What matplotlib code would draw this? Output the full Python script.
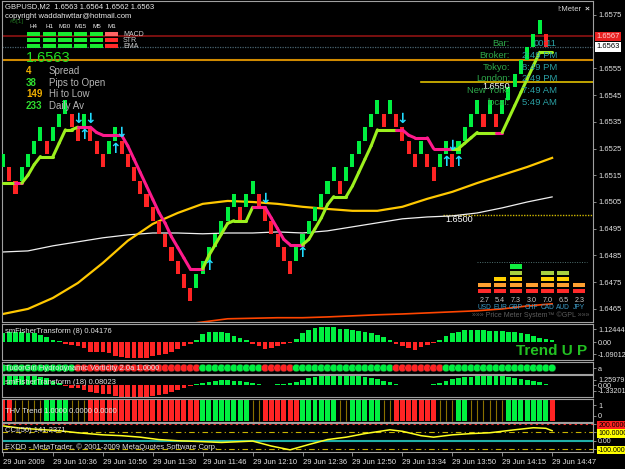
import matplotlib.pyplot as plt

plt.rcParams['font.family'] = ['Liberation Sans', 'DejaVu Sans']

W, H = 625, 469

# ------------------------------------------------------------------ data
time_labels = ['29 Jun 2009', '29 Jun 10:36', '29 Jun 10:56', '29 Jun 11:30', '29 Jun 11:46',
               '29 Jun 12:10', '29 Jun 12:36', '29 Jun 12:50', '29 Jun 13:34', '29 Jun 13:50',
               '29 Jun 14:15', '29 Jun 14:47']
time_label_bars = [0, 8, 16, 24, 32, 40, 48, 56, 64, 72, 80, 88]

# 5 pip bricks, open / close of each bar
brick_open = [1.6518, 1.6518, 1.6513, 1.6513, 1.6518, 1.6523, 1.6528, 1.6528, 1.6528, 1.6533,
              1.6538, 1.6538, 1.6533, 1.6533, 1.6533, 1.6528, 1.6523, 1.6523, 1.6528, 1.6528,
              1.6523, 1.6518, 1.6513, 1.6508, 1.6503, 1.6498, 1.6493, 1.6488, 1.6483, 1.6478,
              1.6473, 1.6473, 1.6478, 1.6483, 1.6488, 1.6493, 1.6498, 1.6503, 1.6503, 1.6503,
              1.6508, 1.6508, 1.6503, 1.6498, 1.6493, 1.6488, 1.6483, 1.6483, 1.6488, 1.6493,
              1.6498, 1.6503, 1.6508, 1.6513, 1.6513, 1.6513, 1.6518, 1.6523, 1.6528, 1.6533,
              1.6538, 1.6538, 1.6538, 1.6538, 1.6533, 1.6528, 1.6523, 1.6523, 1.6523, 1.6518,
              1.6518, 1.6523, 1.6523, 1.6523, 1.6528, 1.6533, 1.6538, 1.6538, 1.6538, 1.6538,
              1.6538, 1.6543, 1.6548, 1.6553, 1.6558, 1.6563, 1.6568, 1.6568, 1.6563]
brick_close = [1.6523, 1.6513, 1.6508, 1.6518, 1.6523, 1.6528, 1.6533, 1.6523, 1.6533, 1.6538,
               1.6543, 1.6533, 1.6528, 1.6538, 1.6528, 1.6523, 1.6518, 1.6528, 1.6533, 1.6523,
               1.6518, 1.6513, 1.6508, 1.6503, 1.6498, 1.6493, 1.6488, 1.6483, 1.6478, 1.6473,
               1.6468, 1.6478, 1.6483, 1.6488, 1.6493, 1.6498, 1.6503, 1.6508, 1.6498, 1.6508,
               1.6513, 1.6503, 1.6498, 1.6493, 1.6488, 1.6483, 1.6478, 1.6488, 1.6493, 1.6498,
               1.6503, 1.6508, 1.6513, 1.6518, 1.6508, 1.6518, 1.6523, 1.6528, 1.6533, 1.6538,
               1.6543, 1.6533, 1.6543, 1.6533, 1.6528, 1.6523, 1.6518, 1.6528, 1.6518, 1.6513,
               1.6523, 1.6528, 1.6518, 1.6528, 1.6533, 1.6538, 1.6543, 1.6533, 1.6543, 1.6533,
               1.6543, 1.6548, 1.6553, 1.6558, 1.6563, 1.6568, 1.6573, 1.6563, 1.6563]

# trend line over the bricks and its down-trend flags
signal = [1.6512, 1.6512, 1.6512, 1.6512, 1.6515, 1.6519, 1.6522, 1.6522, 1.6522, 1.6527,
          1.6532, 1.6532, 1.6533, 1.6533, 1.6533, 1.6531, 1.6530, 1.6530, 1.6530, 1.6530,
          1.6526, 1.6521, 1.6516, 1.6511, 1.6506, 1.6501, 1.6497, 1.6492, 1.6488, 1.6484,
          1.6480, 1.6480, 1.6480, 1.6485, 1.6489, 1.6493, 1.6497, 1.6498, 1.6498, 1.6498,
          1.6503, 1.6503, 1.6503, 1.6499, 1.6495, 1.6491, 1.6489, 1.6489, 1.6489, 1.6491,
          1.6495, 1.6499, 1.6504, 1.6507, 1.6507, 1.6507, 1.6511, 1.6516, 1.6521, 1.6526,
          1.6532, 1.6532, 1.6532, 1.6532, 1.6532, 1.6530, 1.6529, 1.6529, 1.6529, 1.6525,
          1.6525, 1.6525, 1.6525, 1.6525, 1.6527, 1.6529, 1.6531, 1.6531, 1.6531, 1.6531,
          1.6531, 1.6536, 1.6541, 1.6546, 1.6551, 1.6556, 1.6561, 1.6561, 1.6561]
signal_down = [0, 0, 1, 0, 0, 0, 0, 0, 0, 0, 0, 0, 1, 1, 1, 1, 1, 1, 1, 1,
               1, 1, 1, 1, 1, 1, 1, 1, 1, 1, 1, 1, 0, 0, 0, 0, 0, 0, 0, 0,
               1, 1, 1, 1, 1, 1, 1, 1, 0, 0, 0, 0, 0, 0, 0, 0, 0, 0, 0, 0,
               0, 0, 0, 1, 1, 1, 1, 1, 1, 1, 1, 1, 0, 0, 0, 0, 0, 0, 0, 1,
               0, 0, 0, 0, 0, 0, 0, 0, 0]

ma_bars = [0, 4, 8, 12, 16, 20, 24, 28, 32, 36, 40, 44, 48, 52, 56, 60, 64, 68, 72, 76, 80, 84, 88]
ma_yellow = [1.64631, 1.64650, 1.64691, 1.64747, 1.64822, 1.64905, 1.64968, 1.65009, 1.65043,
             1.65054, 1.65050, 1.65043, 1.65032, 1.65024, 1.65017, 1.65017, 1.65032, 1.65062,
             1.65088, 1.65121, 1.65151, 1.65181, 1.65215]
ma_white = [1.64863, 1.64867, 1.64886, 1.64901, 1.64916, 1.64927, 1.64934, 1.64934, 1.64931,
            1.64934, 1.64934, 1.64938, 1.64934, 1.64942, 1.64957, 1.64972, 1.64987, 1.64994,
            1.64998, 1.65009, 1.65028, 1.65050, 1.65069]
ma_red = [1.6452, 1.6453, 1.6454, 1.6455, 1.6456, 1.6457, 1.6458, 1.6459, 1.64601,
          1.64613, 1.64615, 1.64617, 1.64617, 1.64620, 1.64624, 1.64628, 1.64631, 1.64635,
          1.64639, 1.64643, 1.64650, 1.64661, 1.64669]

arrow_dn_bar = [12, 14, 19, 42, 64, 72]
arrow_dn_price = [1.6536, 1.6536, 1.6531, 1.6506, 1.6536, 1.6526]
arrow_up_bar = [13, 18, 33, 48, 71, 73]
arrow_up_price = [1.6530, 1.6525, 1.6481, 1.6486, 1.6520, 1.6520]

line_red, line_bid, line_orange, line_round1, line_round2 = 1.6567, 1.6563, 1.6558, 1.6550, 1.6500
price_ticks = [1.6465, 1.6475, 1.6485, 1.6495, 1.6505, 1.6515, 1.6525, 1.6535, 1.6545, 1.6555, 1.6575]

fisher8 = [0.82, 0.85, 0.85, 0.85, 0.82, 0.80, 0.60, 0.45, 0.15, 0.05,
           -0.15, -0.30, -0.35, -0.55, -0.85, -0.90, -0.90, -0.97, -1.20, -1.37,
           -1.46, -1.46, -1.46, -1.40, -1.28, -1.15, -1.06, -0.85, -0.60, -0.36,
           -0.15, 0.15, 0.67, 0.85, 0.90, 0.90, 0.76, 0.55, 0.36, 0.15,
           -0.15, -0.36, -0.60, -0.55, -0.36, -0.15, -0.06, 0.30, 0.76, 1.06,
           1.28, 1.37, 1.37, 1.30, 1.20, 1.15, 1.06, 0.97, 0.85, 0.76,
           0.60, 0.45, 0.20, -0.15, -0.36, -0.55, -0.67, -0.45, -0.24, -0.06,
           0.15, 0.55, 0.76, 0.90, 1.03, 1.06, 1.06, 1.03, 1.00, 0.97,
           0.97, 0.90, 0.85, 0.76, 0.67, 0.55, 0.36, 0.24, 0.15]
fisher18 = [2.0, 2.0, 2.0, 2.0, 2.0, 2.0, 1.9, 1.6, 1.0, 0.5,
            -0.3, -0.6, -0.8, -1.2, -1.6, -1.8, -2.0, -2.2, -2.5, -2.7,
            -2.8, -2.8, -2.8, -2.7, -2.5, -2.3, -2.0, -1.6, -1.2, -0.6,
            -0.2, 0.2, 0.5, 0.8, 1.0, 1.1, 1.1, 1.0, 0.9, 0.7,
            0.4, 0.2, 0.1, 0.1, 0.15, 0.3, 0.5, 0.8, 1.2, 1.6,
            1.9, 2.1, 2.2, 2.2, 2.2, 2.2, 2.1, 2.0, 1.8, 1.6,
            1.3, 1.0, 0.6, 0.3, 0.1, 0.05, -0.1, -0.1, 0.05, 0.2,
            0.5, 0.9, 1.3, 1.6, 1.8, 1.9, 2.0, 2.0, 2.1, 2.1,
            2.0, 1.9, 1.7, 1.5, 1.2, 0.9, 0.6, 0.3, 0.1]
vortex_up = [1] * 12 + [0] * 20 + [1] * 10 + [0] * 5 + [1] * 16 + [0] * 8 + [1] * 18
thv_state = [-1, -1, 0, 0, 0, 0, 0, 1, 1, 1, 1, 0, 0, 0, -1, -1, -1, -1, -1, -1,
             -1, -1, -1, -1, -1, -1, -1, -1, -1, -1, -1, -1, 1, 1, 1, 1, 1, 1, 1, 1,
             0, 0, -1, -1, -1, -1, -1, -1, 1, 1, 1, 1, 1, 1, 0, 0, 1, 1, 1, 1,
             1, 0, 0, -1, -1, -1, -1, -1, -1, -1, 0, 0, 0, 1, 1, 0, 0, 0, 0, 0,
             0, 1, 1, 1, 1, 1, 1, 1, -1]
cci_bars = [0, 3, 9, 12, 16, 19, 22, 25, 28, 32, 35, 38, 40, 43, 46, 49, 52, 55, 58, 62,
            64, 67, 69, 72, 75, 78, 82, 85, 87, 88]
cci_values = [179, 150, 121, 96, 71, 61, 43, 14, 0, -11, -21, -11, -4, -64, -110, -46, 14, 43,
              86, 132, 114, 61, 43, 71, 86, 96, 132, 157, 150, 121]

meter_ccy = ['USD', 'EUR', 'GBP', 'CHF', 'CAD', 'AUD', 'JPY']
meter_value = ['2.7', '5.4', '7.3', '3.0', '7.0', '6.5', '2.3']
meter_level = [2, 3, 5, 2, 4, 4, 2]
meter_colors = ['#ff2a2a', '#ffa030', '#ffd000', '#a8d040', '#10ee40']

tf_names = ['H4', 'H1', 'M30', 'M15', 'M5', 'M1']
tf_rows = ['MACD', 'STR', 'EMA']
tf_state = [[1, 1, 1, 1, 1, 0], [1, 1, 1, 1, 1, 0], [1, 1, 1, 1, 1, 0]]

stat_values = ['4', '38', '149', '233']
stat_names = ['Spread', 'Pips to Open', 'Hi to Low', 'Daily Av']
stat_colors = ['#f0b000', '#30dd30', '#f0b000', '#30dd30']

clock_names = ['Bar:', 'Broker:', 'Tokyo:', 'London:', 'New York:', 'local:']
clock_times = ['00:11', '2:49 PM', '8:49 PM', '2:49 PM', '7:49 AM', '5:49 AM']

# ------------------------------------------------------------------ helpers
GREEN, RED = '#00f040', '#ff2424'
GRID = '#a0a0a0'
TXT = '#e2e2e2'
XLIM = ((2 - 3) / 6.24, (593 - 3) / 6.24)

fig = plt.figure(figsize=(W / 100, H / 100), dpi=100, facecolor='black')


def px_axes(x0, y0, x1, y1, labelsize=5.5):
    ax = fig.add_axes([x0 / W, 1 - y1 / H, (x1 - x0) / W, (y1 - y0) / H])
    ax.set_facecolor('black')
    for s in ax.spines.values():
        s.set_color(GRID)
        s.set_linewidth(0.8)
    ax.set_xlim(*XLIM)
    ax.set_xticks([])
    ax.yaxis.tick_right()
    ax.tick_params(axis='y', length=2.5, width=0.6, color=GRID, labelsize=labelsize,
                   labelcolor=TXT, pad=1.2)
    return ax


def ptext(x, y, s, **kw):
    kw.setdefault('color', TXT)
    kw.setdefault('fontsize', 5.5)
    kw.setdefault('va', 'center')
    kw.setdefault('ha', 'left')
    return fig.text(x / W, 1 - y / H, s, **kw)


bars = list(range(len(brick_open)))

# ------------------------------------------------------------------ main chart
ax = px_axes(2, 1, 593, 322)
ax.set_ylim(1.64601, 1.65802)

ax.plot(ma_bars, ma_red, color='#ff4500', lw=1.2, zorder=2)
ax.plot(ma_bars, ma_white, color='#f0f0f0', lw=0.9, zorder=2)
ax.plot(ma_bars, ma_yellow, color='#ffc800', lw=1.6, zorder=2)

ax.axhline(line_red, color='#7a1010', lw=1.4, zorder=1)
ax.axhline(line_bid, color='#4a6470', lw=0.9, ls=(0, (1, 1)), zorder=1)
ax.axhline(line_orange, color='#d08a00', lw=1.5, zorder=1)
ax.plot([67, XLIM[1]], [line_round1, line_round1], color='#e0c000', lw=1.2, zorder=1)
ax.plot([70.5, XLIM[1]], [line_round2, line_round2], color='#d0b800', lw=1.0,
        ls=(0, (1, 1)), zorder=1)

heights = [c - o for o, c in zip(brick_open, brick_close)]
colors = [GREEN if c >= o else RED for o, c in zip(brick_open, brick_close)]
ax.bar(bars, heights, bottom=brick_open, width=0.66, color=colors, zorder=3)

for i in range(len(signal) - 1):
    col = '#ff1a8c' if signal_down[i] else '#9cf01e'
    ax.plot([i, i + 1], [signal[i], signal[i + 1]], color=col, lw=2.2,
            solid_capstyle='round', zorder=4)

for b, p in zip(arrow_dn_bar, arrow_dn_price):
    ax.text(b, p, '\u2193', color='#20dcff', ha='center', va='center', fontsize=10,
            fontweight='bold', family='DejaVu Sans', zorder=5)
for b, p in zip(arrow_up_bar, arrow_up_price):
    ax.text(b, p, '\u2191', color='#20dcff', ha='center', va='center', fontsize=10,
            fontweight='bold', family='DejaVu Sans', zorder=5)

ax.set_yticks(price_ticks)
ax.set_yticklabels([f'{p:.4f}' for p in price_ticks])
ax.text(1.006, line_red, f'{line_red:.4f}', transform=ax.get_yaxis_transform(), fontsize=5.5,
        color='#ffd0d0', va='center', ha='left',
        bbox=dict(boxstyle='square,pad=0.15', fc='#e82020', ec='none'))
ax.text(1.006, line_bid, f'{line_bid:.4f}', transform=ax.get_yaxis_transform(), fontsize=5.5,
        color='black', va='center', ha='left',
        bbox=dict(boxstyle='square,pad=0.15', fc='white', ec='none'))
ax.text(76.8, line_round1, f'{line_round1:.4f}', color='white', fontsize=6.5, va='top', zorder=6)
ax.text(70.9, line_round2, f'{line_round2:.4f}', color='white', fontsize=6.5, va='top', zorder=6)

# header texts
ptext(5, 7, 'GBPUSD,M2  1.6563 1.6564 1.6562 1.6563', color='#ececec')
ptext(5, 16, 'copyright waddahwttar@hotmail.com', color='#ececec')
ptext(10, 22, '#5[1]', color='#1f6f1f', fontsize=4.5)

col_x = [27, 43, 58, 74, 90, 105]
col_w = [13, 13, 14, 13, 13, 13]
row_y = [32, 38, 44]
for j, name in enumerate(tf_names):
    ptext(col_x[j] + col_w[j] / 2, 26, name, color='#f0f0f0', fontsize=4.5, ha='center')
for r, rname in enumerate(tf_rows):
    ptext(123, row_y[r] + 2, rname, color='#d0d0d0', fontsize=5)
    for j in range(len(tf_names)):
        if tf_state[r][j]:
            fc = '#18ec30'
        else:
            fc = '#ff6464' if r == 0 else '#ff2a2a'
        fig.patches.append(plt.Rectangle((col_x[j] / W, 1 - (row_y[r] + 4.5) / H), col_w[j] / W,
                                         4.5 / H, transform=fig.transFigure, fc=fc, ec='none'))

ptext(26, 58.5, '1.6563', color='#22e022', fontsize=10.5)
for k in range(4):
    y = 71 + k * 11.7
    ptext(26, y, stat_values[k], color=stat_colors[k], fontsize=7, fontweight='bold')
    ptext(49, y, stat_names[k], color='#b4b4b4', fontsize=7)

ptext(557, 9.5, '!:Meter', color='#d8d8d8')
ptext(585, 9.5, '\u00d7', color='#d8d8d8', fontsize=6, fontweight='bold')
for k in range(6):
    y = 43.5 + k * 11.8
    ptext(510, y, clock_names[k], color='#2ea84a', fontsize=6.8, ha='right')
    ptext(557, y, clock_times[k], color='#2aa0a4', fontsize=6.8, ha='right')

# price meter widget
axm = fig.add_axes([476.5 / W, 1 - 293.5 / H, 110.5 / W, 31 / H])
axm.set_xlim(-0.5, 6.5)
axm.set_ylim(0, 5)
axm.axis('off')
axm.patch.set_alpha(0)
for lev in range(5):
    xs = [i for i in range(len(meter_ccy)) if meter_level[i] > lev]
    axm.bar(xs, [0.7] * len(xs), bottom=lev, width=0.78, color=meter_colors[lev])
axm.axhline(5.15, color='#4f7070', lw=0.7, ls=(0, (1, 1.5)), clip_on=False)
for i in range(len(meter_ccy)):
    ptext(484.4 + 15.8 * i, 300, meter_value[i], color='#c8c8c8', fontsize=5.2, ha='center')
    ptext(484.4 + 15.8 * i, 307.5, meter_ccy[i], color='#3c9cc8', fontsize=4.8, ha='center')
ptext(531, 315.5, '\u00bb\u00bb\u00bb Price Meter System\u2122 \u00a9GPL \u00bb\u00bb\u00bb',
      color='#5c5c5c', fontsize=5, ha='center')

# ------------------------------------------------------------------ fisher (8)
ax1 = px_axes(2, 324, 593, 360, labelsize=5.2)
ax1.set_ylim(-1.6, 1.6)
ax1.bar(bars, fisher8, width=0.75, color=[GREEN if v > 0 else RED for v in fisher8])
ax1.set_yticks([1.12444, 0, -1.09012])
ax1.set_yticklabels(['1.12444', '0.00', '-1.09012'])
ptext(5, 331, 'smFisherTransform (8) 0.04176')
ptext(516, 351, 'Trend U P', color='#22c022', fontsize=11, fontweight='bold')

# ------------------------------------------------------------------ vorticity
ax2 = px_axes(2, 362, 593, 374, labelsize=5.2)
ax2.set_ylim(-1, 1)
ax2.scatter(bars, [0] * len(bars), s=30, marker='o',
            c=[GREEN if v else RED for v in vortex_up], edgecolors='#202020', linewidths=0.3)
ax2.set_yticks([0])
ax2.set_yticklabels(['a'])
ptext(5, 368.5, 'TudorGirl Hydrodynamic Vorticity 2.0a 1.0000')

# ------------------------------------------------------------------ fisher (18)
ax3 = px_axes(2, 375, 593, 397, labelsize=5.2)
ax3.set_ylim(-2.79, 2.33)
ax3.bar(bars, fisher18, width=0.75, color=[GREEN if v > 0 else RED for v in fisher18])
ax3.set_yticks([1.25979, 0, -1.33201])
ax3.set_yticklabels(['1.25979', '0.00', '-1.33201'])
ptext(5, 382, 'smFisherTransform (18) 0.08023')

# ------------------------------------------------------------------ THV trend
ax4 = px_axes(2, 399, 593, 422, labelsize=5.2)
thv_x = [i for i, s in enumerate(thv_state) if s != 0]
thv_c = [GREEN if thv_state[i] > 0 else RED for i in thv_x]
ax4.bar(thv_x, [0.92] * len(thv_x), bottom=0.04, width=0.8, color=thv_c,
        transform=ax4.get_xaxis_transform())
flat_x = [i for i, s in enumerate(thv_state) if s == 0]
ax4.vlines(flat_x, 0.04, 0.96, colors='#8a7000', lw=0.8, transform=ax4.get_xaxis_transform())
ax4.set_ylim(-0.55, 1.55)
ax4.set_yticks([1, 0])
ax4.set_yticklabels(['1', '0'])
ptext(5, 411, 'THV Trend 1.0000 0.0000 0.0000')

# ------------------------------------------------------------------ CCI
ax5 = px_axes(2, 423, 593, 452, labelsize=5.0)
ax5.set_ylim(-136, 214)
ax5.axhline(200, color='#ff2020', lw=0.8, ls=(0, (2, 3)))
ax5.axhline(100, color='#c8b400', lw=0.8, ls=(0, (5, 3, 1, 3)))
ax5.axhline(-100, color='#c8b400', lw=0.8, ls=(0, (5, 3, 1, 3)))
ax5.axhline(0, color='#20b0a8', lw=1.5)
ax5.plot(cci_bars, cci_values, color='#ffff20', lw=1.1)
ax5.set_yticks([200, 100, 0, -100])
ax5.set_yticklabels(['200.0000', '100.0000', '0.00', '-100.0000'])
lab_bg = ['#ff2020', '#ffff00', None, '#ffff00']
for lbl, bg in zip(ax5.get_yticklabels(), lab_bg):
    if bg:
        lbl.set_color('black')
        lbl.set_bbox(dict(boxstyle='square,pad=0.1', fc=bg, ec='none'))
ptext(5, 431, 'CCI(50) 141.2371')
ptext(5, 447, 'EXDD - MetaTrader, \u00a9 2001-2009 MetaQuotes Software Corp.')

ax5.set_xticks(time_label_bars)
ax5.set_xticklabels(time_labels, ha='left')
ax5.tick_params(axis='x', length=3, width=0.6, color=GRID, labelsize=5.5, labelcolor=TXT, pad=2)

fig.savefig('out.png', dpi=100, facecolor='black')
